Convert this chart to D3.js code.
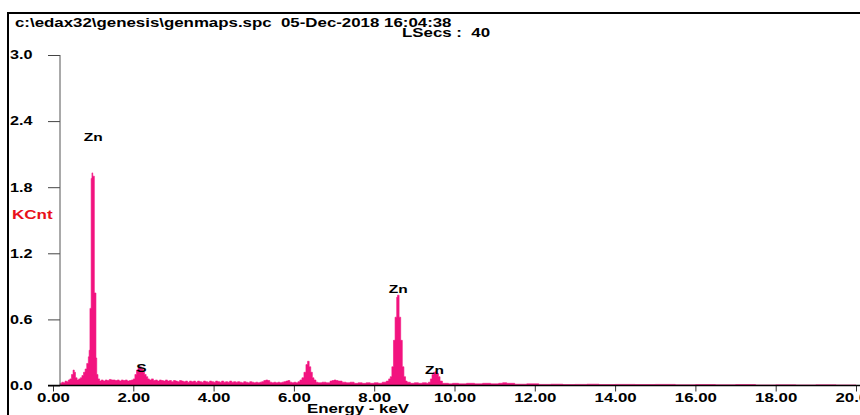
<!DOCTYPE html>
<html>
<head>
<meta charset="utf-8">
<script src="https://cdn.jsdelivr.net/npm/d3@7"></script>
<style>
  html, body { margin: 0; padding: 0; background: #fff; }
  svg text { font-family: "Liberation Sans", Arial, sans-serif; font-weight: bold; }
</style>
</head>
<body>
<div id="chart"></div>
<script>
// spectrum: [energy keV, KCnt]
const spectrum = [
  [0.18,0.02],[0.22,0.03],[0.26,0.025],[0.30,0.04],[0.34,0.035],[0.38,0.05],[0.42,0.06],
  [0.46,0.10],[0.50,0.14],[0.53,0.12],[0.56,0.07],[0.60,0.05],[0.64,0.06],[0.68,0.07],
  [0.72,0.09],[0.76,0.12],[0.80,0.15],[0.84,0.20],[0.88,0.26],[0.90,0.32],[0.92,0.70],
  [0.95,1.88],[0.97,1.93],[0.99,1.90],[1.01,1.90],[1.03,0.84],[1.05,0.84],[1.07,0.25],
  [1.09,0.10],[1.12,0.06],[1.16,0.04],[1.20,0.05],[1.25,0.04],[1.30,0.05],[1.35,0.045],
  [1.40,0.055],[1.45,0.05],[1.50,0.05],[1.55,0.045],[1.60,0.05],[1.65,0.04],[1.70,0.05],
  [1.75,0.045],[1.80,0.05],[1.85,0.04],[1.90,0.045],[1.95,0.05],[2.00,0.06],[2.04,0.10],
  [2.08,0.14],[2.12,0.16],[2.16,0.17],[2.20,0.15],[2.24,0.12],[2.28,0.10],[2.32,0.08],
  [2.36,0.06],[2.40,0.05],[2.45,0.06],[2.50,0.045],[2.55,0.05],[2.60,0.04],[2.65,0.05],
  [2.70,0.045],[2.75,0.04],[2.80,0.05],[2.85,0.04],[2.90,0.045],[2.95,0.035],[3.00,0.045],
  [3.05,0.04],[3.10,0.035],[3.15,0.045],[3.20,0.04],[3.25,0.035],[3.30,0.04],[3.35,0.03],
  [3.40,0.04],[3.45,0.035],[3.50,0.04],[3.55,0.03],[3.60,0.04],[3.65,0.035],[3.70,0.03],
  [3.75,0.04],[3.80,0.035],[3.85,0.03],[3.90,0.04],[3.95,0.035],[4.00,0.03],[4.05,0.04],
  [4.10,0.035],[4.15,0.03],[4.20,0.04],[4.25,0.03],[4.30,0.035],[4.35,0.03],[4.40,0.04],
  [4.45,0.03],[4.50,0.035],[4.55,0.03],[4.60,0.035],[4.65,0.03],[4.70,0.025],[4.75,0.035],
  [4.80,0.03],[4.85,0.025],[4.90,0.035],[4.95,0.03],[5.00,0.025],[5.05,0.03],[5.10,0.025],
  [5.15,0.03],[5.20,0.035],[5.25,0.045],[5.30,0.05],[5.35,0.045],[5.40,0.03],[5.45,0.025],
  [5.50,0.03],[5.55,0.025],[5.60,0.03],[5.65,0.025],[5.70,0.03],[5.75,0.035],[5.80,0.04],
  [5.85,0.045],[5.90,0.03],[5.95,0.025],[6.00,0.03],[6.05,0.025],[6.10,0.035],[6.15,0.05],
  [6.20,0.07],[6.25,0.12],[6.30,0.19],[6.34,0.22],[6.38,0.17],[6.42,0.12],[6.46,0.07],
  [6.50,0.05],[6.55,0.03],[6.60,0.025],[6.70,0.03],[6.80,0.025],[6.90,0.04],[6.95,0.045],
  [7.00,0.05],[7.05,0.045],[7.10,0.04],[7.20,0.03],[7.30,0.025],[7.40,0.03],[7.50,0.02],
  [7.60,0.025],[7.70,0.02],[7.80,0.025],[7.90,0.02],[8.00,0.025],[8.10,0.02],[8.20,0.03],
  [8.30,0.04],[8.36,0.06],[8.40,0.08],[8.44,0.17],[8.48,0.41],[8.52,0.62],[8.56,0.80],
  [8.58,0.82],[8.62,0.62],[8.66,0.41],[8.70,0.17],[8.74,0.08],[8.78,0.04],[8.82,0.03],
  [8.90,0.02],[9.00,0.025],[9.10,0.02],[9.20,0.025],[9.30,0.02],[9.35,0.03],[9.40,0.06],
  [9.44,0.10],[9.48,0.12],[9.52,0.125],[9.56,0.11],[9.60,0.08],[9.64,0.04],[9.70,0.02],
  [9.75,0.02],[9.85,0.015],[9.95,0.02],[10.1,0.015],[10.3,0.02],[10.5,0.015],[10.7,0.02],
  [10.9,0.015],[11.1,0.02],[11.2,0.025],[11.3,0.02],[11.5,0.012],[11.8,0.015],[12.1,0.01],
  [12.4,0.012],[12.7,0.008],[13.0,0.01],[13.3,0.012],[13.6,0.008],[14.0,0.01],[14.5,0.008],
  [15.0,0.01],[15.5,0.006],[16.0,0.008],[16.5,0.006],[17.0,0.008],[17.5,0.005],[18.0,0.006],
  [18.5,0.005],[19.0,0.006],[19.5,0.005],[20.0,0.005]
];

// element labels: [text, energy keV, KCnt at label baseline]
const peakLabels = [
  ["Zn", 1.0, 2.22],
  ["S", 2.2, 0.12],
  ["Zn", 8.6, 0.84],
  ["Zn", 9.5, 0.105]
];

const xTicks = [0, 2, 4, 6, 8, 10, 12, 14, 16, 18, 20];
const yTicks = [0, 0.6, 1.2, 1.8, 2.4, 3.0];

const titleText = "c:\\edax32\\genesis\\genmaps.spc  05-Dec-2018 16:04:38";
const lsecsText = "LSecs :  40";

const width = 860, height = 415;
const pink = "#f2137f";
const STRETCH = 1.35; // the old screen font is much wider than Arial

const svg = d3.select("#chart")
  .append("svg")
  .attr("width", width)
  .attr("height", height);

const x = d3.scaleLinear().domain([0, 20]).range([53, 856]);
const y = d3.scaleLinear().domain([0, 3]).range([385.5, 55]);

// widen text in place: move x/y into a transform so scaling keeps the anchor
function stretch(sel, k) {
  sel.each(function () {
    const t = d3.select(this);
    const tx = +t.attr("x") || 0;
    const ty = +t.attr("y") || 0;
    t.attr("x", 0).attr("y", 0)
      .attr("transform", `translate(${tx},${ty}) scale(${k || STRETCH},1)`);
  });
}

// frame
svg.append("path")
  .attr("d", "M8,415V13H860")
  .attr("fill", "none")
  .attr("stroke", "#000")
  .attr("stroke-width", 2);

// header
svg.append("text")
  .attr("x", 15).attr("y", 27)
  .attr("font-size", 12.5)
  .attr("xml:space", "preserve")
  .text(titleText)
  .call(stretch);

svg.append("text")
  .attr("x", 402).attr("y", 37)
  .attr("font-size", 12.5)
  .attr("xml:space", "preserve")
  .text(lsecsText)
  .call(stretch);

// spectrum
const area = d3.area()
  .x((d) => x(d[0]))
  .y0(y(0))
  .y1((d) => y(d[1]))
  .curve(d3.curveStepAfter);

svg.append("path")
  .datum(spectrum)
  .attr("d", area)
  .attr("fill", pink)
  .attr("stroke", pink)
  .attr("stroke-width", 0.6);

// y axis
const yAxisX = 60;
const yAxis = svg.append("g")
  .attr("transform", `translate(${yAxisX},0)`)
  .call(d3.axisLeft(y).tickValues(yTicks).tickSize(12).tickFormat(d3.format(".1f")));
yAxis.select(".domain").remove();
yAxis.append("line")
  .attr("x1", 0).attr("x2", 0)
  .attr("y1", y(3)).attr("y2", y(0))
  .attr("stroke", "#555");
yAxis.selectAll(".tick line").attr("stroke", "#444");
yAxis.selectAll(".tick text")
  .attr("x", 10 - yAxisX)
  .attr("text-anchor", "start")
  .attr("font-size", 12)
  .attr("fill", "#000")
  .call(stretch);

svg.append("text")
  .attr("x", 12).attr("y", 219)
  .attr("font-size", 12)
  .attr("fill", "#e8101a")
  .text("KCnt")
  .call(stretch, 1.42);

// x axis
const xAxis = svg.append("g")
  .attr("transform", `translate(0,${y(0)})`)
  .call(d3.axisBottom(x).tickValues(xTicks).tickSize(6).tickFormat(d3.format(".2f")));
xAxis.select(".domain").remove();
xAxis.append("line")
  .attr("x1", 48).attr("x2", width)
  .attr("stroke", "#000")
  .attr("stroke-width", 1.5);
xAxis.selectAll(".tick line").attr("stroke", "#333");
xAxis.selectAll(".tick text")
  .attr("y", 8)
  .attr("font-size", 12.5)
  .attr("fill", "#000")
  .call(stretch);

svg.append("text")
  .attr("x", 358).attr("y", 413)
  .attr("text-anchor", "middle")
  .attr("font-size", 12.5)
  .text("Energy - keV")
  .call(stretch);

// peak labels
svg.append("g")
  .selectAll("text")
  .data(peakLabels)
  .enter()
  .append("text")
  .attr("x", (d) => x(d[1]))
  .attr("y", (d) => y(d[2]))
  .attr("text-anchor", "middle")
  .attr("font-size", 11.5)
  .text((d) => d[0])
  .call(stretch);
</script>
</body>
</html>
